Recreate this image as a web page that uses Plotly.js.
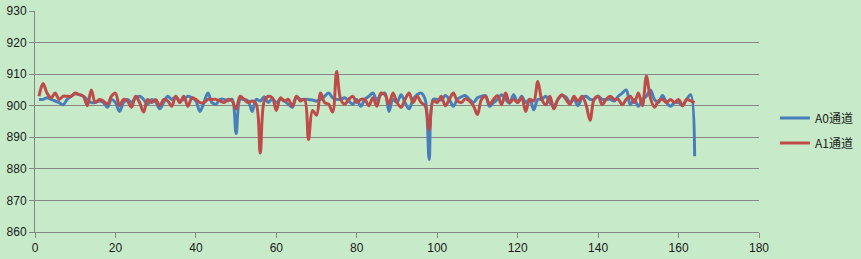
<!DOCTYPE html>
<html>
<head>
<meta charset="utf-8">
<script src="https://cdn.plot.ly/plotly-3.0.1.min.js"></script>
<style>html,body{margin:0;padding:0;background:#C7EBC9;}#chart{width:861px;height:259px;}</style>
</head>
<body>
<div id="chart"></div>
<script>
const seriesNames = ["A0通道", "A1通道"];
const a0 = [902,902,902.5,902,901.5,901,900.3,902,903,903.8,903.5,903,902,901,901,901.5,901,899.5,902,901,
898.2,901,902,901,902.5,903,902,900.5,902,901.2,899,901,903,902,902.8,901.5,902,903,902.5,901.5,
898.2,901,904,901,900.5,902,902,901.5,902,891.2,902,902,901.5,898.2,902,901.5,902.8,901,902.2,901,
902,901.5,900.5,899.5,902.8,902,902,902,901.8,901.5,902,903,904,902.5,902,902,902.5,901.5,900.5,902,
899.8,902,903,904,901.8,903.5,904,898.2,902,901,903.5,901,899,902,903.5,904,902,883,902,902,
901.8,903.2,902,899.8,902,902.8,903.2,902,901,902.5,903,903.2,899.8,901,902,903.5,902,900.8,903.5,901,
903,901,902,898.7,902,902,903,901,899.8,902,903.2,902.8,901,902,900,902.5,903,902,902,903,
902,902,902,901.5,903,904,905,900.3,902,899.8,902,903,905,902,901,903.2,901,899.8,901,901,
900,902,903.5,884];
const a1 = [903,907,904,902.5,904,902,903,903,903,904,903.5,903,900,905,901,902,901.5,900.5,903,904,
900,902,901.5,899.5,903,901,898,902,901,902,900,902,901.5,899.8,903,901,903,899.8,902.5,902,
901,901,902,902,902,901.5,901,902,901.5,899,903,902,901,901.5,900.5,885,901.5,903,902.5,898.5,
902.5,901.5,902,899.8,903,901.5,902,889.3,898.5,897,904,901,900.5,898,910.8,902,900.5,902,903,901,
902,902,900,902.5,899.8,904,903.5,900.5,904,901,899.5,902,904,901,903,901,900,892.4,901.5,901,
903,900,902,904,901.5,901,902.2,901.5,900,897.2,902,903,900.5,902,903.2,900.3,904,901,902,901,
902.5,898.2,902,901.5,907.7,902,900.3,903,899,902,903.5,902,900.5,903,901.4,903,900.3,895.4,902,903,
900.3,902,903,902,902,900.3,902,903,901,904,900,909.3,902.5,899.5,901.5,902,901,902,901,902,
900,902,901.5,901];
const xs = a0.map((_, i) => i + 1);
const xTicks = [0,20,40,60,80,100,120,140,160,180];
const yTicks = [860,870,880,890,900,910,920,930];

const traces = [
  {x: xs, y: a0, name: seriesNames[0], legendgroup: 'g0', type: 'scatter', mode: 'lines',
   line: {color: '#4A7EBB', width: 3, shape: 'spline', smoothing: 1}},
  {x: xs, y: a1, name: seriesNames[1], legendgroup: 'g1', type: 'scatter', mode: 'lines',
   line: {color: '#BE4B48', width: 3, shape: 'spline', smoothing: 1}}
];
const axisFont = {family: 'Liberation Sans, Arial, sans-serif', size: 12, color: '#1a1a1a'};
const layout = {
  width: 861, height: 259,
  margin: {l: 35, r: 102, t: 11, b: 27, pad: 0, autoexpand: false},
  paper_bgcolor: '#C7EBC9', plot_bgcolor: '#C7EBC9',
  showlegend: true,
  xaxis: {range: [0, 180], tickvals: xTicks, ticktext: xTicks.map(String), showgrid: false, zeroline: false,
    showline: true, linecolor: '#868686', linewidth: 1, ticks: 'outside', ticklen: 5, tickcolor: '#868686',
    tickfont: axisFont},
  yaxis: {range: [860, 930], tickvals: yTicks, ticktext: yTicks.map(String), showgrid: true, gridcolor: '#868686', gridwidth: 1,
    zeroline: false, showline: true, linecolor: '#868686', linewidth: 1, ticks: 'outside', ticklen: 5, tickcolor: '#868686',
    tickfont: axisFont},
  legend: {x: 1.022, y: 0.459, xanchor: 'left', yanchor: 'middle', bgcolor: 'rgba(0,0,0,0)',
    traceorder: 'grouped', tracegroupgap: 6,
    font: {family: 'Noto Sans CJK SC, sans-serif', size: 12, color: '#1a1a1a'}, itemwidth: 30}
};
Plotly.newPlot('chart', traces, layout, {displayModeBar: false, staticPlot: true});
</script>
</body>
</html>
